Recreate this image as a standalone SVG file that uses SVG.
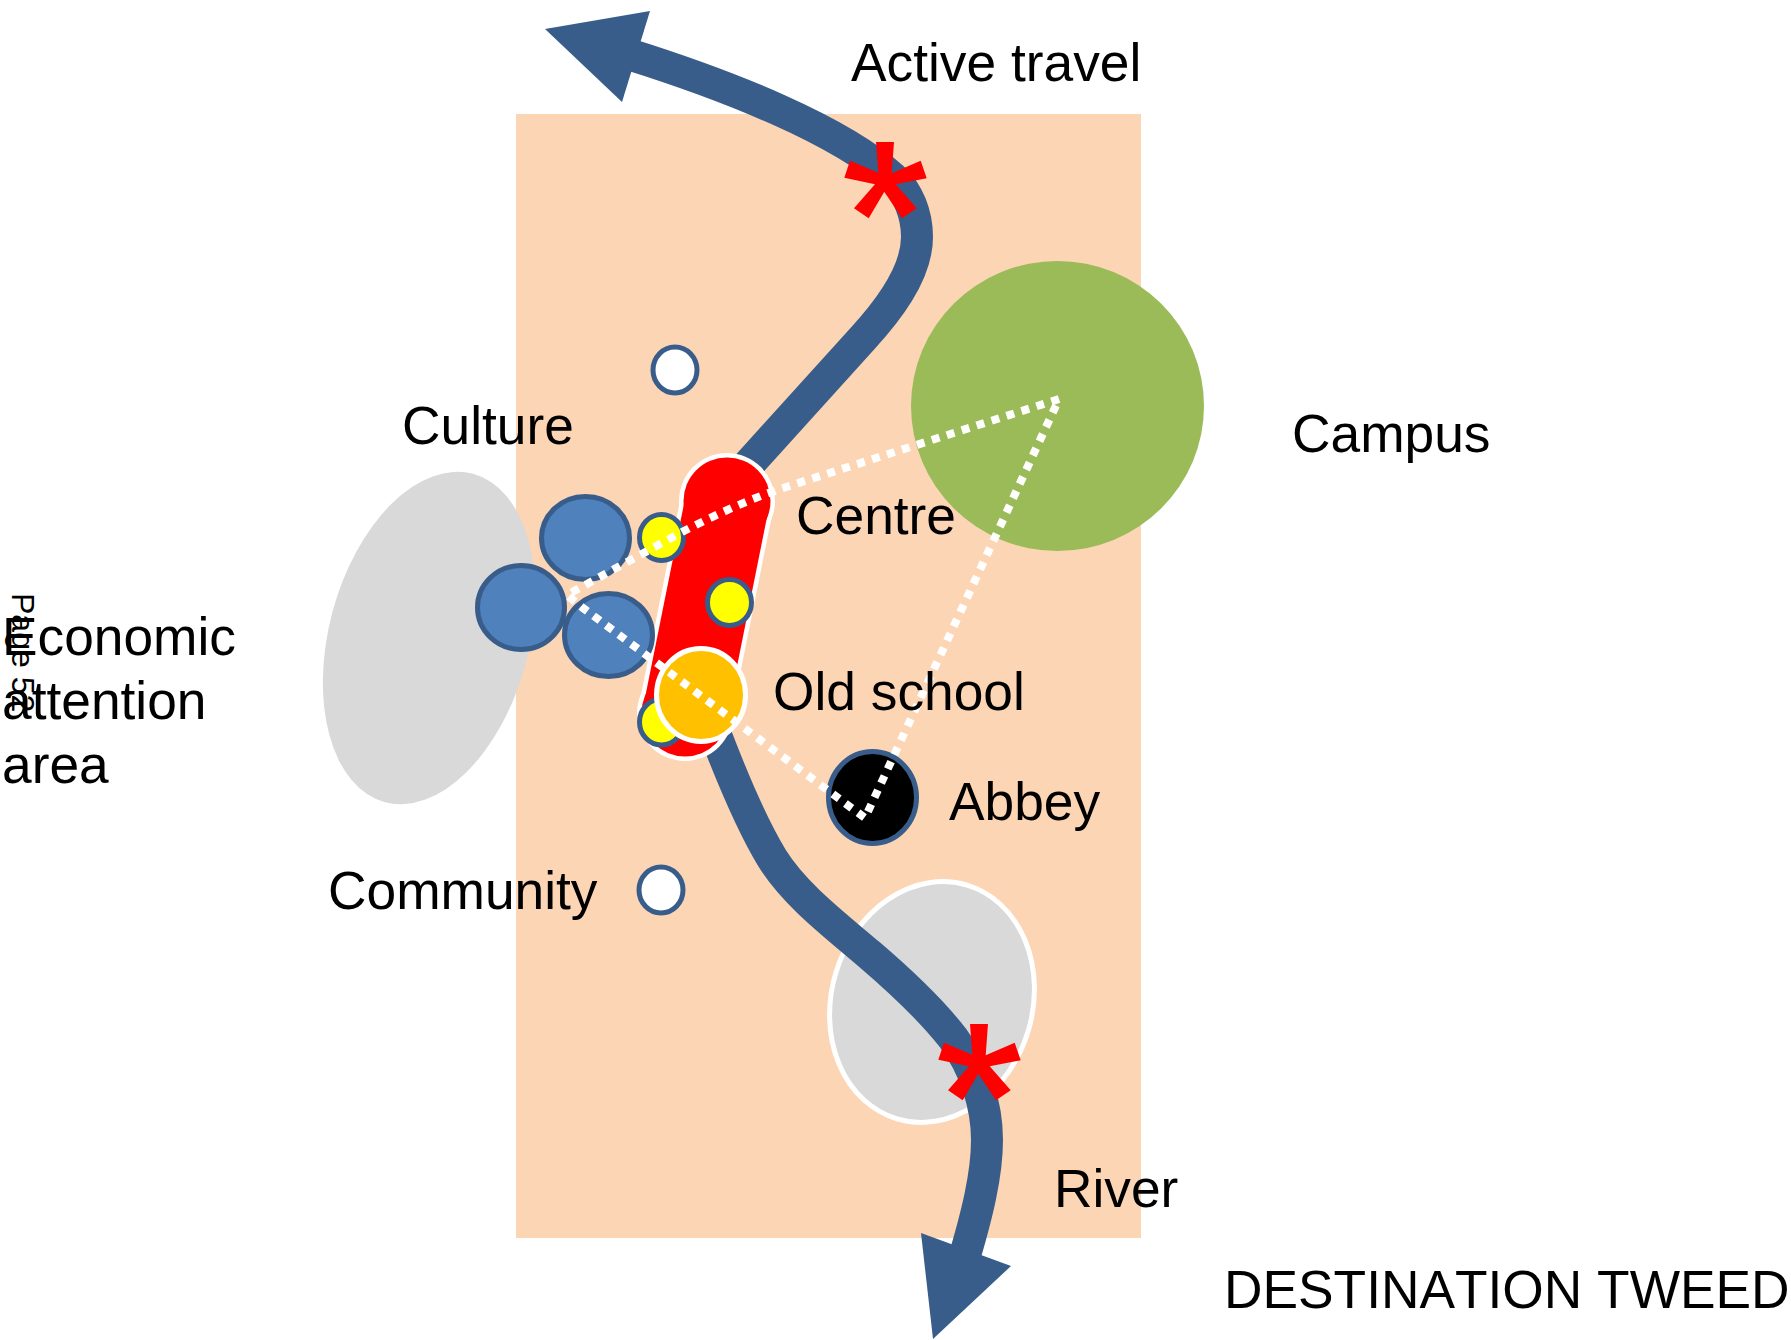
<svg xmlns="http://www.w3.org/2000/svg" width="1791" height="1340" viewBox="0 0 1791 1340">
<style>
text{font-family:"Liberation Sans",Arial,sans-serif;font-size:53.3px;fill:#000;font-kerning:none}
.b{stroke:#385D8A;stroke-width:5;fill:#4F81BD}
.y{stroke:#385D8A;stroke-width:5;fill:#FFFF00}
.w{stroke:#385D8A;stroke-width:5;fill:#FFFFFF}
.shaft{fill:none;stroke:#385D8A;stroke-width:32}
.head{fill:#385D8A}
.dots{fill:none;stroke:#FFFFFF;stroke-width:8;stroke-dasharray:8 7.7}
.star{fill:#FF0000}
</style>
<defs>
<polygon id="ast" points="876,142 894,142 891.7,173.3 920.7,160.7 926.7,178.3 895.7,184.3 916.7,208.3 902,218.3 884.3,191.7 868.7,218.3 854,208.3 875,184.3 844.3,177.7 850,160.7 878.3,172.7"/>
</defs>
<rect id="area" x="516" y="114" width="625" height="1124" fill="#FCD5B5"/>
<g id="economic-ellipse"><ellipse cx="429" cy="638" rx="100" ry="170" transform="rotate(15 429 638)" fill="#D9D9D9"/></g>
<g id="river-ellipse"><ellipse cx="932" cy="1002" rx="100.5" ry="122" transform="rotate(16.7 932 1002)" fill="#D9D9D9" stroke="#FFFFFF" stroke-width="5"/></g>
<g id="campus"><ellipse cx="1057.5" cy="406" rx="146.5" ry="145" fill="#9BBB59"/></g>
<g id="connectors">
<path class="shaft" d="M628,54C730,86 840,130 893,178C908,192 917,214 917,237C917,275 885,314 863,338L740,474"/>
<polygon class="head" points="545,29 650,11 622,102"/>
<path class="shaft" d="M712,725C732,778 752,825 772,858C795,895 835,925 870,955C905,985 935,1015 953,1038C975,1068 987,1105 987,1140C987,1175 977,1215 963,1262"/>
<polygon class="head" points="921,1233 1011,1266 933,1339"/>
</g>
<g id="centre-bar">
<line x1="727" y1="503" x2="685" y2="712" stroke="#FFFFFF" stroke-width="93"/>
<circle cx="727" cy="501" r="48" fill="#FFFFFF"/>
<circle cx="685" cy="713" r="48" fill="#FFFFFF"/>
<line x1="727" y1="503" x2="685" y2="712" stroke="#FF0000" stroke-width="84"/>
<circle cx="727" cy="501" r="43.5" fill="#FF0000"/>
<circle cx="685" cy="713" r="43.5" fill="#FF0000"/>
</g>
<g id="blue-1"><ellipse class="b" cx="585.5" cy="538" rx="44" ry="41.5"/></g>
<g id="blue-2"><ellipse class="b" cx="521" cy="607.5" rx="43.5" ry="42"/></g>
<g id="blue-3"><ellipse class="b" cx="608.5" cy="635" rx="44" ry="41.5"/></g>
<g id="yellow-1"><ellipse class="y" cx="661.5" cy="537.5" rx="22" ry="23"/></g>
<g id="yellow-2"><ellipse class="y" cx="729.5" cy="602.5" rx="22" ry="23"/></g>
<g id="yellow-3"><ellipse class="y" cx="661.5" cy="722" rx="22" ry="23"/></g>
<g id="old-school"><ellipse cx="701" cy="695" rx="44.5" ry="46.5" fill="#FFC000" stroke="#FFFFFF" stroke-width="5"/></g>
<g id="abbey"><ellipse cx="872.5" cy="797.5" rx="44" ry="46" fill="#000000" stroke="#385D8A" stroke-width="5"/></g>
<g id="white-1"><ellipse class="w" cx="675" cy="370" rx="22" ry="23"/></g>
<g id="white-2"><ellipse class="w" cx="661" cy="890" rx="22" ry="23"/></g>
<g id="routes">
<path class="dots" d="M1059,399L783,488C750,499 715,515 682,532L567,595L583,608L865,818L1059,399"/>
</g>
<g id="star-top"><use href="#ast" class="star"/></g>
<g id="star-bottom"><use href="#ast" class="star" x="94" y="882"/></g>
<g id="labels">
<text x="851" y="81">Active travel</text>
<text x="402" y="444">Culture</text>
<text x="1292" y="452">Campus</text>
<text x="796" y="534">Centre</text>
<text x="773" y="710">Old school</text>
<text x="949" y="820">Abbey</text>
<text x="328" y="909">Community</text>
<text x="1054" y="1207">River</text>
<text x="1224" y="1308">DESTINATION TWEED</text>
<text x="2" y="655">Economic</text>
<text x="2" y="719">attention</text>
<text x="2" y="783">area</text>
<text x="12" y="593" transform="rotate(90 12 593)" style="font-size:32px">Page 52</text>
</g>
</svg>
